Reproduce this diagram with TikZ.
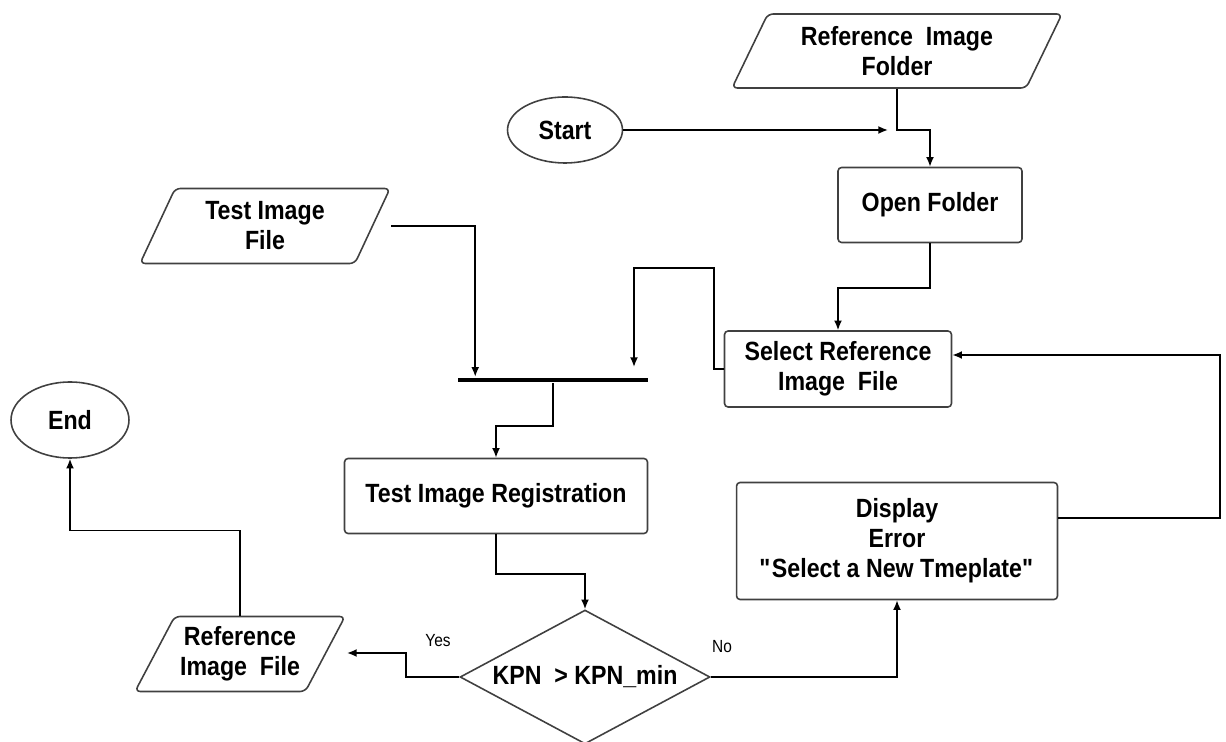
\documentclass[tikz,border=0pt]{standalone}
\usepackage{fontspec}
\setmainfont{Liberation Sans}[FakeStretch=0.88]
\usetikzlibrary{shapes.geometric, arrows, arrows.meta}
\tikzstyle{block} = [draw=black!75, line width=0.9pt, rectangle, rounded corners=2pt, align=center, font=\fontsize{15}{17}\selectfont\bfseries]
\tikzstyle{io} = [draw=black!75, line width=0.9pt, trapezium, trapezium left angle=54, trapezium right angle=126, trapezium stretches body=true, rounded corners=3pt, inner sep=0pt, align=center, font=\fontsize{15}{17}\selectfont\bfseries]
\tikzstyle{term} = [draw=black!75, line width=0.9pt, ellipse, inner sep=0pt, font=\fontsize{15}{17}\selectfont\bfseries]
\tikzstyle{decision} = [draw=black!75, line width=0.9pt, diamond, aspect=1.87, inner sep=0pt, font=\fontsize{15}{17}\selectfont\bfseries]
\tikzstyle{joinbar} = [fill=black, rectangle, inner sep=0pt, minimum height=2.8pt]
\tikzstyle{lbl} = [font=\fontsize{10}{12}\selectfont]
\tikzstyle{point} = [coordinate]

\begin{document}
\begin{tikzpicture}[x=0.02cm, y=-0.02cm, >={Latex[length=5.5pt,width=4.5pt]}, line width=0.9pt]
        \useasboundingbox (0,0) rectangle (1226,742);
        % 参考图像文件夹
        \node [io, minimum width=6.6cm, minimum height=1.48cm] (folder) at (897,51) {Reference\ \ Image\\Folder};
        % 开始
        \node [term, minimum width=2.3cm, minimum height=1.32cm] (start) at (565,130) {Start};
        \node [point] (startend) at (888,130) {};
        % 打开文件夹
        \node [block, minimum width=3.68cm, minimum height=1.5cm] (open) at (930,205) {Open Folder};
        % 选择参考图像
        \node [block, minimum width=4.54cm, minimum height=1.52cm] (select) at (838,369) {Select Reference\\Image\ \ File};
        % 测试图像文件
        \node [io, minimum width=5cm, minimum height=1.5cm] (testfile) at (265,226) {Test Image\\File};
        % 汇合条
        \node [joinbar, minimum width=3.8cm] (bar) at (553,380) {};
        \node [point] (barR) at (634,367) {};
        % 图像配准
        \node [block, minimum width=6.06cm, minimum height=1.5cm] (reg) at (496,496) {Test Image Registration};
        % 判断
        \node [decision, minimum width=5cm, minimum height=2.68cm] (kpn) at (585,677) {KPN\ \ > KPN\_min};
        % 输出参考图像
        \node [io, minimum width=4.2cm, minimum height=1.5cm] (reffile) at (240,654) {Reference\\Image\ \ File};
        \node [point] (yesend) at (347,653) {};
        % 结束
        \node [term, minimum width=2.36cm, minimum height=1.52cm] (endnode) at (70,420) {End};
        % 错误提示
        \node [block, minimum width=6.42cm, minimum height=2.34cm] (display) at (897,541) {Display\\Error\\\textquotedbl Select a New Tmeplate\textquotedbl};
        % 标注
        \node [lbl] (yes) at (438,641) {Yes};
        \node [lbl] (no) at (722,647) {No};
        % 连线
        \draw [->] (start.east) -- (startend);
        \draw [->] (folder.south) -- (folder.south |- start.east) -| (open.north);
        \draw [->] (open.south) -- ++(0,45) -| (select.north);
        \draw [->] (select.west) -- ++(-10,0) -- ++(0,-101) -| (barR);
        \draw [->] (testfile.east -| testfile.top right corner) -| ([xshift=0.36cm]bar.north west);
        \draw [->] (bar.south) -- ++(0,43) -| (reg.north);
        \draw [->] (reg.south) -- ++(0,40) -| (kpn.north);
        \draw [->] (kpn.west) -- ++(-53,0) |- (yesend);
        \draw [->] (reffile.north) -- ++(0,-85) -| (endnode.south);
        \draw [->] (kpn.east) -| (display.south);
        \draw [->] ([yshift=0.46cm]display.east) -- ++(162,0) |- ([yshift=0.28cm]select.east);
    \end{tikzpicture}
\end{document}
